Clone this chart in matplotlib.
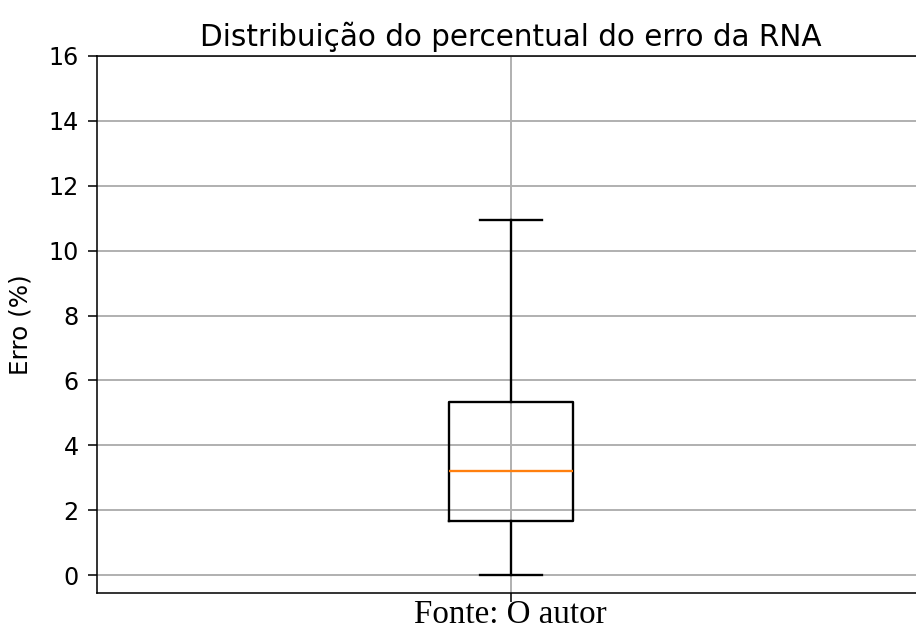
import matplotlib
matplotlib.use("Agg")
import matplotlib.pyplot as plt

# box statistics (percent error)
whisker_low = 0.0
q1 = 1.68
median = 3.2
q3 = 5.33
whisker_high = 10.95

stats = [{
    "whislo": whisker_low,
    "q1": q1,
    "med": median,
    "q3": q3,
    "whishi": whisker_high,
    "fliers": [],
}]

fig = plt.figure(figsize=(916 / 140, 634 / 140), dpi=140)
ax = fig.add_axes([0.1059, 0.0647, 0.904, 0.847])

ax.bxp(stats, showfliers=False,
       boxprops=dict(linewidth=1.2), whiskerprops=dict(linewidth=1.2),
       capprops=dict(linewidth=1.2), medianprops=dict(linewidth=1.2))
ax.set_ylim(-0.55, 16)
ax.set_xticks([1])
ax.set_xticklabels([""])
ax.grid(True, linewidth=1.0)
ax.tick_params(labelsize=12.3, length=4.5, pad=5)
ax.set_ylabel("Erro (%)", fontsize=12.7, labelpad=8)
ax.set_title("Distribuição do percentual do erro da RNA", fontsize=15.2, pad=5)

fig.text(0.557, 0.031, "Fonte: O autor", ha="center", va="center",
         family="Liberation Serif", fontsize=17)

fig.savefig("out.png", dpi=140)
